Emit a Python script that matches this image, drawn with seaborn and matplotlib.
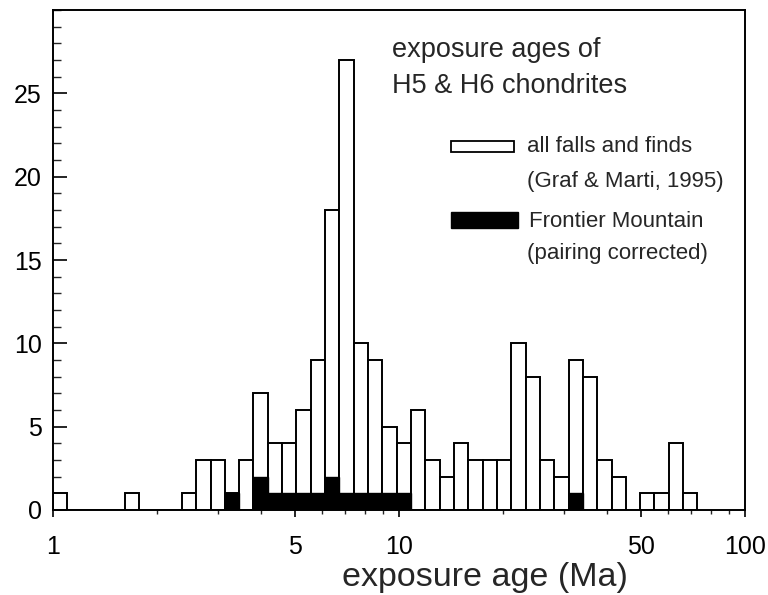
import numpy as np
import pandas as pd
import matplotlib
matplotlib.use("Agg")
import matplotlib.pyplot as plt
from matplotlib.patches import Rectangle
from matplotlib.ticker import FixedLocator, NullFormatter, MultipleLocator
import seaborn as sns

# bins: geometric, ratio 1.1, starting at 1 Ma (bin k spans 1.1**k .. 1.1**(k+1))
bin_ratio = 1.1
all_counts = [1, 0, 0, 0, 0, 1, 0, 0, 0, 1,
              3, 3, 1, 3, 7, 4, 4, 6, 9, 18,
              27, 10, 9, 5, 4, 6, 3, 2, 4, 3,
              3, 3, 10, 8, 3, 2, 9, 8, 3, 2,
              0, 1, 1, 4, 1]
frontier_counts = [0, 0, 0, 0, 0, 0, 0, 0, 0, 0,
                   0, 0, 1, 0, 2, 1, 1, 1, 1, 2,
                   1, 1, 1, 1, 1, 0, 0, 0, 0, 0,
                   0, 0, 0, 0, 0, 0, 1, 0, 0, 0,
                   0, 0, 0, 0, 0]
x_ticks = [1, 5, 10, 50, 100]
x_tick_labels = ["1", "5", "10", "50", "100"]

k = np.arange(len(all_counts))
edges = bin_ratio ** np.arange(len(all_counts) + 1)
centers = bin_ratio ** (k + 0.5)
df = pd.DataFrame({"age": centers, "all": all_counts, "frontier": frontier_counts})

sns.set_style("ticks")
plt.rcParams["font.family"] = ["Liberation Sans", "DejaVu Sans"]

fig = plt.figure(figsize=(7.68, 5.95), dpi=100)
ax = fig.add_axes([0.069, 0.143, 0.901, 0.840])

log_bins = [float(v) for v in np.log10(edges)]
sns.histplot(data=df, x="age", weights="all", bins=log_bins, log_scale=True,
             color="white", edgecolor="black", linewidth=1.4, alpha=1, ax=ax)
sns.histplot(data=df, x="age", weights="frontier", bins=log_bins, log_scale=True,
             color="black", edgecolor="black", linewidth=1.0, alpha=1, ax=ax)

ax.set_xlim(1, 100)
ax.set_ylim(0, 30)
ax.xaxis.set_major_locator(FixedLocator(x_ticks))
ax.set_xticklabels(x_tick_labels)
minor = [v for d in (1, 10) for v in np.arange(2, 10) * d if v not in x_ticks]
ax.xaxis.set_minor_locator(FixedLocator(minor))
ax.xaxis.set_minor_formatter(NullFormatter())
ax.yaxis.set_major_locator(FixedLocator([0, 5, 10, 15, 20, 25]))
ax.yaxis.set_minor_locator(MultipleLocator(1))

ax.tick_params(axis="x", which="major", direction="out", length=5, width=1.2,
               labelsize=18, pad=13, colors="black")
ax.tick_params(axis="x", which="minor", direction="out", length=3, width=1.0)
ax.tick_params(axis="y", which="major", direction="in", length=10, width=1.2,
               labelsize=18, pad=8, colors="black")
ax.tick_params(axis="y", which="minor", direction="in", length=6, width=1.0)

for sp in ax.spines.values():
    sp.set_visible(True)
    sp.set_color("black")
    sp.set_linewidth(1.4)

ax.set_ylabel("")
ax.set_xlabel("exposure age (Ma)", fontsize=24.5)
ax.xaxis.set_label_coords(0.624, -0.104)

ax.text(0.49, 0.906, "exposure ages of", transform=ax.transAxes,
        fontsize=19.5, ha="left", va="baseline")
ax.text(0.49, 0.834, "H5 & H6 chondrites", transform=ax.transAxes,
        fontsize=19.5, ha="left", va="baseline")

# legend (manual)
ax.add_patch(Rectangle((0.575, 0.716), 0.091, 0.022, transform=ax.transAxes,
                       facecolor="white", edgecolor="black", linewidth=1.3,
                       clip_on=False))
ax.add_patch(Rectangle((0.575, 0.564), 0.097, 0.032, transform=ax.transAxes,
                       facecolor="black", edgecolor="black", linewidth=1.0,
                       clip_on=False))
ax.text(0.685, 0.716, "all falls and finds", transform=ax.transAxes,
        fontsize=16, ha="left", va="baseline")
ax.text(0.685, 0.646, "(Graf & Marti, 1995)", transform=ax.transAxes,
        fontsize=16, ha="left", va="baseline")
ax.text(0.688, 0.566, "Frontier Mountain", transform=ax.transAxes,
        fontsize=16, ha="left", va="baseline")
ax.text(0.685, 0.502, "(pairing corrected)", transform=ax.transAxes,
        fontsize=16, ha="left", va="baseline")

fig.savefig("out.png", dpi=100)
